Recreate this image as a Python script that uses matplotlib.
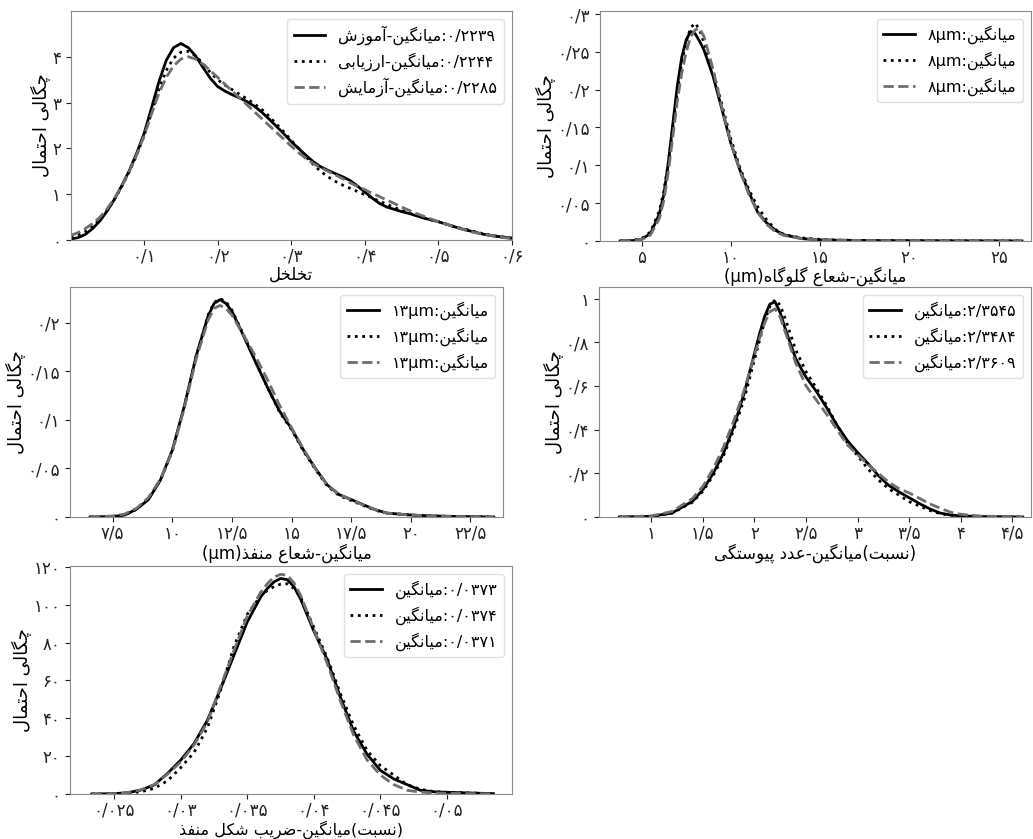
import matplotlib
matplotlib.use("Agg")
import matplotlib.pyplot as plt

# --- porosity ---
por_x = [0, 0.01, 0.02, 0.03, 0.04, 0.05, 0.06, 0.07, 0.08, 0.09, 0.1, 0.11, 0.12, 0.13, 0.14, 0.15,
         0.16, 0.17, 0.18, 0.19, 0.2, 0.21, 0.22, 0.23, 0.24, 0.25, 0.26, 0.27, 0.28, 0.29, 0.3,
         0.31, 0.32, 0.33, 0.34, 0.35, 0.36, 0.37, 0.38, 0.39, 0.4, 0.41, 0.42, 0.43, 0.44, 0.45,
         0.46, 0.47, 0.48, 0.49, 0.5, 0.51, 0.52, 0.53, 0.54, 0.55, 0.56, 0.57, 0.58, 0.59, 0.6]
por_train = [0.02, 0.05, 0.12, 0.25, 0.42, 0.64, 0.9, 1.2, 1.52, 1.9, 2.33, 2.88, 3.45, 3.92, 4.2, 4.29,
             4.2, 4.02, 3.77, 3.53, 3.35, 3.25, 3.17, 3.1, 3.02, 2.92, 2.79, 2.64, 2.48, 2.32, 2.15,
             2.0, 1.85, 1.71, 1.6, 1.52, 1.45, 1.38, 1.3, 1.18, 1.05, 0.92, 0.8, 0.72, 0.67, 0.62,
             0.58, 0.53, 0.48, 0.44, 0.4, 0.35, 0.3, 0.25, 0.21, 0.17, 0.13, 0.1, 0.08, 0.06, 0.04]
por_val = [0.07, 0.11, 0.18, 0.3, 0.45, 0.65, 0.9, 1.18, 1.5, 1.86, 2.28, 2.78, 3.28, 3.7, 3.97, 4.1,
           4.12, 4.02, 3.85, 3.66, 3.5, 3.38, 3.28, 3.18, 3.08, 2.97, 2.85, 2.7, 2.53, 2.36, 2.18,
           2.0, 1.82, 1.65, 1.5, 1.38, 1.28, 1.2, 1.13, 1.06, 0.99, 0.92, 0.85, 0.78, 0.71, 0.65,
           0.59, 0.54, 0.49, 0.44, 0.4, 0.35, 0.3, 0.26, 0.22, 0.18, 0.14, 0.11, 0.08, 0.06, 0.04]
por_test = [0.1, 0.16, 0.25, 0.36, 0.5, 0.69, 0.92, 1.19, 1.5, 1.87, 2.28, 2.75, 3.2, 3.55, 3.8, 3.95,
            4.0, 3.95, 3.84, 3.7, 3.55, 3.4, 3.25, 3.1, 2.95, 2.8, 2.65, 2.5, 2.35, 2.2, 2.05,
            1.91, 1.78, 1.67, 1.58, 1.5, 1.42, 1.34, 1.25, 1.17, 1.1, 1.02, 0.95, 0.87, 0.8, 0.72,
            0.65, 0.58, 0.52, 0.46, 0.4, 0.35, 0.3, 0.25, 0.2, 0.16, 0.13, 0.1, 0.07, 0.05, 0.03]
por_means = ["۰/۲۲۳۹", "۰/۲۲۴۴", "۰/۲۲۸۵"]

# --- throat radius ---
thr_x = [3.8, 4.5, 5, 5.5, 6, 6.25, 6.5, 6.75, 7, 7.25, 7.5, 7.75, 8, 8.25, 8.5, 9, 9.5, 10, 10.5,
         11, 11.5, 12, 12.5, 13, 14, 15, 16, 18, 20, 22, 24, 26.3]
thr_train = [0, 0.0005, 0.002, 0.01, 0.036, 0.062, 0.104, 0.155, 0.205, 0.243, 0.266, 0.277, 0.274,
             0.264, 0.252, 0.218, 0.174, 0.129, 0.094, 0.065, 0.038, 0.024, 0.014, 0.008, 0.003,
             0.0015, 0.001, 0.0005, 0.0003, 0.0002, 0.0001, 0]
thr_val = [0, 0.001, 0.003, 0.012, 0.04, 0.066, 0.104, 0.15, 0.197, 0.236, 0.264, 0.282, 0.288,
           0.279, 0.262, 0.225, 0.18, 0.135, 0.097, 0.068, 0.045, 0.028, 0.015, 0.008, 0.004,
           0.002, 0.001, 0.0005, 0.0003, 0.0002, 0.0001, 0]
thr_test = [0, 0.0005, 0.002, 0.008, 0.03, 0.054, 0.092, 0.138, 0.185, 0.222, 0.25, 0.27, 0.279,
            0.281, 0.27, 0.227, 0.176, 0.13, 0.093, 0.062, 0.038, 0.022, 0.012, 0.007, 0.003,
            0.0015, 0.001, 0.0005, 0.0003, 0.0002, 0.0001, 0]
thr_means = ["۸μm", "۸μm", "۸μm"]

# --- pore radius ---
pore_x = [6.55, 7.5, 8, 8.5, 9, 9.5, 10, 10.5, 11, 11.5, 11.75, 12, 12.25, 12.5, 13, 13.5, 14, 14.5,
          15, 15.5, 16, 16.5, 17, 17.5, 18, 18.5, 19, 20, 21, 22, 23.48]
pore_train = [0, 0.0005, 0.002, 0.008, 0.018, 0.038, 0.069, 0.114, 0.166, 0.207, 0.22, 0.224, 0.22,
              0.212, 0.186, 0.159, 0.133, 0.109, 0.091, 0.069, 0.05, 0.033, 0.023, 0.018, 0.0127,
              0.0076, 0.004, 0.002, 0.001, 0.0005, 0]
pore_val = [0, 0.0006, 0.002, 0.008, 0.019, 0.038, 0.068, 0.113, 0.166, 0.208, 0.221, 0.225, 0.222,
            0.213, 0.187, 0.16, 0.133, 0.108, 0.09, 0.068, 0.049, 0.032, 0.022, 0.017, 0.012,
            0.007, 0.004, 0.002, 0.001, 0.0005, 0]
pore_test = [0, 0.001, 0.003, 0.009, 0.02, 0.039, 0.068, 0.112, 0.163, 0.203, 0.215, 0.218, 0.215,
             0.208, 0.187, 0.165, 0.141, 0.115, 0.092, 0.07, 0.05, 0.033, 0.023, 0.018, 0.0125,
             0.0075, 0.004, 0.002, 0.001, 0.0005, 0]
pore_means = ["۱۳μm", "۱۳μm", "۱۳μm"]

# --- coordination number ---
coord_x = [0.69, 1.0, 1.2, 1.4, 1.5, 1.6, 1.7, 1.8, 1.9, 2.0, 2.05, 2.1, 2.15, 2.2, 2.25, 2.3, 2.4,
           2.5, 2.6, 2.7, 2.8, 2.9, 3.0, 3.1, 3.2, 3.3, 3.4, 3.5, 3.6, 3.7, 3.8, 3.9, 4.0, 4.2,
           4.4, 4.6]
coord_train = [0, 0.003, 0.018, 0.072, 0.125, 0.2, 0.292, 0.414, 0.566, 0.749, 0.84, 0.92, 0.975,
               0.985, 0.935, 0.86, 0.725, 0.64, 0.575, 0.5, 0.42, 0.35, 0.295, 0.245, 0.19, 0.145,
               0.115, 0.088, 0.061, 0.037, 0.018, 0.009, 0.005, 0.002, 0.001, 0]
coord_val = [0, 0.003, 0.017, 0.068, 0.118, 0.19, 0.28, 0.4, 0.54, 0.72, 0.81, 0.9, 0.965,
             0.995, 0.97, 0.905, 0.765, 0.665, 0.59, 0.51, 0.42, 0.34, 0.28, 0.22, 0.17, 0.13,
             0.1, 0.07, 0.05, 0.03, 0.015, 0.008, 0.004, 0.002, 0.001, 0]
coord_test = [0, 0.005, 0.025, 0.085, 0.14, 0.22, 0.32, 0.44, 0.58, 0.74, 0.82, 0.89, 0.94,
              0.953, 0.915, 0.845, 0.705, 0.6, 0.535, 0.47, 0.4, 0.33, 0.285, 0.24, 0.2, 0.16,
              0.13, 0.11, 0.085, 0.06, 0.04, 0.022, 0.012, 0.004, 0.002, 0]
coord_means = ["۲/۳۵۴۵", "۲/۳۴۸۴", "۲/۳۶۰۹"]

# --- pore shape factor ---
shape_x = [0.0233, 0.025, 0.026, 0.027, 0.028, 0.029, 0.03, 0.031, 0.032, 0.033, 0.034, 0.035,
           0.036, 0.0365, 0.037, 0.0375, 0.038, 0.0385, 0.039, 0.04, 0.041, 0.042, 0.043, 0.044,
           0.045, 0.046, 0.047, 0.048, 0.049, 0.05, 0.052, 0.0535]
shape_train = [0, 0.2, 0.7, 2.1, 4.8, 10.9, 18, 26.7, 39, 55.8, 73.4, 91, 104, 108.5, 112, 113.8,
               113.2, 109.5, 103, 86, 71, 51, 33, 21, 12.5, 8, 5, 2, 1.2, 0.9, 0.5, 0.2]
shape_val = [0, 0.1, 0.4, 1.2, 3, 7, 14, 22, 35, 55, 78, 95, 104.5, 107.5, 109.5, 110.8, 111,
             108.5, 104, 88, 72, 53, 36, 23, 15, 10, 5, 2.5, 1.3, 0.9, 0.5, 0.2]
shape_test = [0, 0.2, 0.7, 2.2, 5, 10.5, 17, 26, 38, 57, 76, 94, 106.5, 111, 114.5, 116, 115.5,
              111.5, 105, 87, 69, 49, 31, 18, 10, 5, 2, 1, 0.6, 0.4, 0.2, 0.1]
shape_means = ["۰/۰۳۷۳", "۰/۰۳۷۴", "۰/۰۳۷۱"]

# Persian letters -> (isolated, final, initial, medial) presentation forms
FORMS = {
    'ا': ('\uFE8D', '\uFE8E', None, None),
    'آ': ('\uFE81', '\uFE82', None, None),
    'ب': ('\uFE8F', '\uFE90', '\uFE91', '\uFE92'),
    'پ': ('\uFB56', '\uFB57', '\uFB58', '\uFB59'),
    'ت': ('\uFE95', '\uFE96', '\uFE97', '\uFE98'),
    'ح': ('\uFEA1', '\uFEA2', '\uFEA3', '\uFEA4'),
    'خ': ('\uFEA5', '\uFEA6', '\uFEA7', '\uFEA8'),
    'چ': ('\uFB7A', '\uFB7B', '\uFB7C', '\uFB7D'),
    'د': ('\uFEA9', '\uFEAA', None, None),
    'ذ': ('\uFEAB', '\uFEAC', None, None),
    'ر': ('\uFEAD', '\uFEAE', None, None),
    'ز': ('\uFEAF', '\uFEB0', None, None),
    'س': ('\uFEB1', '\uFEB2', '\uFEB3', '\uFEB4'),
    'ش': ('\uFEB5', '\uFEB6', '\uFEB7', '\uFEB8'),
    'ض': ('\uFEBD', '\uFEBE', '\uFEBF', '\uFEC0'),
    'ع': ('\uFEC9', '\uFECA', '\uFECB', '\uFECC'),
    'ف': ('\uFED1', '\uFED2', '\uFED3', '\uFED4'),
    'ک': ('\uFB8E', '\uFB8F', '\uFB90', '\uFB91'),
    'گ': ('\uFB92', '\uFB93', '\uFB94', '\uFB95'),
    'ل': ('\uFEDD', '\uFEDE', '\uFEDF', '\uFEE0'),
    'م': ('\uFEE1', '\uFEE2', '\uFEE3', '\uFEE4'),
    'ن': ('\uFEE5', '\uFEE6', '\uFEE7', '\uFEE8'),
    'ه': ('\uFEE9', '\uFEEA', '\uFEEB', '\uFEEC'),
    'و': ('\uFEED', '\uFEEE', None, None),
    'ی': ('\uFBFC', '\uFBFD', '\uFBFE', '\uFBFF'),
}


def shape(s):
    out = []
    for i, ch in enumerate(s):
        f = FORMS.get(ch)
        if f is None:
            out.append(ch)
            continue
        prev = s[i - 1] if i > 0 else ''
        nxt = s[i + 1] if i + 1 < len(s) else ''
        jp = prev in FORMS and FORMS[prev][2] is not None
        jn = f[2] is not None and nxt in FORMS
        if jp and jn:
            out.append(f[3])
        elif jp:
            out.append(f[1])
        elif jn:
            out.append(f[2])
        else:
            out.append(f[0])
    return ''.join(out)


def fa(text):
    # shape, then lay out right-to-left keeping number/latin runs in order
    s = shape(text)
    runs = []
    for i, ch in enumerate(s):
        ltr = (ch.isdigit() or ch == 'μ' or (ch.isascii() and ch.isalpha())
               or (ch == '/' and 0 < i < len(s) - 1 and s[i - 1].isdigit() and s[i + 1].isdigit()))
        if runs and runs[-1][1] == ltr:
            runs[-1][0] += ch
        else:
            runs.append([ch, ltr])
    mirror = {'(': ')', ')': '('}
    out = []
    for t, ltr in reversed(runs):
        out.append(t if ltr else ''.join(mirror.get(c, c) for c in reversed(t)))
    return ''.join(out)


def fa_num(v):
    s = f"{v:g}"
    return s.translate(str.maketrans("0123456789.", "۰۱۲۳۴۵۶۷۸۹/"))


fig = plt.figure(figsize=(10.33, 8.39), dpi=100)

panels = [
    dict(rect=[0.0684, 0.714, 0.4269, 0.2729], x=por_x, ys=(por_train, por_val, por_test),
         labels=[por_means[0] + ":میانگین-آموزش", por_means[1] + ":میانگین-ارزیابی",
                 por_means[2] + ":میانگین-آزمایش"],
         xlabel="تخلخل", xlim=(0, 0.6), ylim=(0, 5.0), lab_dy=35, lab_fs=12,
         xticks=[0.1, 0.2, 0.3, 0.4, 0.5, 0.6], yticks=[0, 1, 2, 3, 4]),
    dict(rect=[0.5808, 0.7128, 0.4172, 0.2741], x=thr_x, ys=(thr_train, thr_val, thr_test),
         labels=["میانگین:" + m for m in thr_means],
         xlabel="میانگین-شعاع گلوگاه(μm)", xlim=(2.67, 26.8), ylim=(0, 0.304), lab_dy=35, lab_fs=12,
         xticks=[5, 10, 15, 20, 25], yticks=[0, 0.05, 0.1, 0.15, 0.2, 0.25, 0.3]),
    dict(rect=[0.0678, 0.3838, 0.4192, 0.2741], x=pore_x, ys=(pore_train, pore_val, pore_test),
         labels=["میانگین:" + m for m in pore_means],
         xlabel="میانگین-شعاع منفذ(μm)", xlim=(5.71, 23.87), ylim=(0, 0.237), lab_dy=36, lab_fs=12,
         xticks=[7.5, 10, 12.5, 15, 17.5, 20, 22.5], yticks=[0, 0.05, 0.1, 0.15, 0.2]),
    dict(rect=[0.5799, 0.3838, 0.4182, 0.2741], x=coord_x, ys=(coord_train, coord_val, coord_test),
         labels=[m + ":میانگین" for m in coord_means],
         xlabel="(نسبت)میانگین-عدد پیوستگی", xlim=(0.494, 4.68), ylim=(0, 1.053), lab_dy=36, lab_fs=12,
         xticks=[1, 1.5, 2, 2.5, 3, 3.5, 4, 4.5], yticks=[0, 0.2, 0.4, 0.6, 0.8, 1]),
    dict(rect=[0.0678, 0.0536, 0.4279, 0.2718], x=shape_x, ys=(shape_train, shape_val, shape_test),
         labels=[m + ":میانگین" for m in shape_means],
         xlabel="(نسبت)میانگین-ضریب شکل منفذ", xlim=(0.02167, 0.0549), ylim=(0, 120.4), lab_dy=35.5,
         lab_fs=11.5,
         xticks=[0.025, 0.03, 0.035, 0.04, 0.045, 0.05], yticks=[0, 20, 40, 60, 80, 100, 120]),
]

styles = [dict(color="black", ls="-", lw=2.0),
          dict(color="black", ls=":", lw=2.0),
          dict(color="#6e6e6e", ls="--", lw=2.0)]

for p in panels:
    ax = fig.add_axes(p["rect"])
    for y, st, lab in zip(p["ys"], styles, p["labels"]):
        ax.plot(p["x"], y, label=fa(lab), **st)
    ax.set_xlim(*p["xlim"])
    ax.set_ylim(*p["ylim"])
    ax.set_xticks(p["xticks"])
    ax.set_xticklabels([fa_num(v) for v in p["xticks"]], fontsize=12)
    ax.set_yticks(p["yticks"])
    ax.set_yticklabels([fa_num(v) for v in p["yticks"]], fontsize=12)
    ax.set_xlabel(fa(p["xlabel"]), fontsize=p["lab_fs"], va="center")
    ax.xaxis.set_label_coords(0.5, -p["lab_dy"] / (p["rect"][3] * 839))
    ax.set_ylabel(fa("چگالی احتمال"), fontsize=13, labelpad=1)
    for sp in ax.spines.values():
        sp.set_color("#8a8a8a")
    ax.tick_params(colors="#222222", length=3.5, width=0.8)
    ax.tick_params(axis="x", pad=2)
    leg = ax.legend(loc="upper right", fontsize=11.5, handlelength=2.0, labelspacing=0.45,
                    framealpha=0.9)
    leg.get_frame().set_edgecolor("#dddddd")

fig.savefig("out.png", dpi=100)
